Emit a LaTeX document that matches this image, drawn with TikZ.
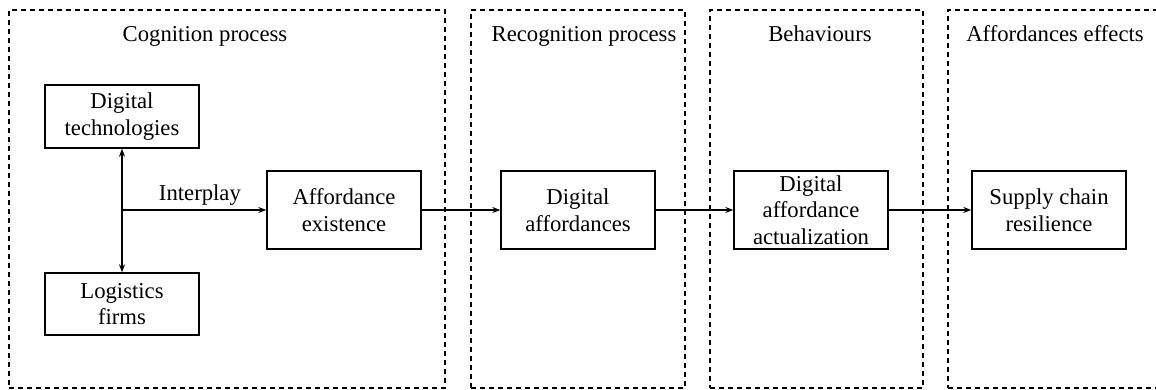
\documentclass[tikz,border=0pt]{standalone}
\usepackage{fontspec}
\setmainfont{Liberation Serif}
\usetikzlibrary{arrows.meta}
\begin{document}
\begin{tikzpicture}[x=1pt,y=-1pt,
  every node/.style={font=\fontsize{22.7}{26.5}\selectfont},
  panel/.style={draw, line width=1.2pt, dash pattern=on 5pt off 4pt, minimum height=378pt, inner sep=0pt},
  box/.style={draw, line width=1.4pt, minimum width=154pt, align=center, inner sep=0pt},
  title/.style={inner sep=0pt, anchor=base},
  link/.style={line width=1.2pt, -{Stealth[length=8pt,width=6pt]}}
]
\useasboundingbox (0,0) rectangle (1156,390);
\clip (0,0) rectangle (1156,390);
\fill[white] (0,0) rectangle (1156,390);

% stage panels
\node[panel, minimum width=436pt] (P1) at (227,199) {};
\node[panel, minimum width=214pt] (P2) at (578,199) {};
\node[panel, minimum width=213pt] (P3) at (816.5,199) {};
\node[panel, minimum width=222pt] (P4) at (1059,199) {};

% stage titles
\node[title] (T1) at (205,42) {Cognition process};
\node[title] (T2) at (584,42) {Recognition process};
\node[title] (T3) at (820,42) {Behaviours};
\node[title] (T4) at (1055,42) {Affordances effects};

% boxes
\node[box, minimum height=63pt] (DT) at (122,116.5) {Digital\\technologies};
\node[box, minimum height=62pt] (LF) at (122,304) {Logistics\\firms};
\node[box, minimum height=78pt] (AE) at (344,210) {Affordance\\existence};
\node[box, minimum height=78pt] (DA) at (578,210) {Digital\\affordances};
\node[box, minimum height=78pt] (DAA) at (811,210) {Digital\\affordance\\actualization};
\node[box, minimum height=78pt] (SCR) at (1049,210) {Supply chain\\resilience};

% connectors
\coordinate (J) at (122,210);
\draw[link, {Stealth[length=8pt,width=6pt]}-{Stealth[length=8pt,width=6pt]}] (DT.south) -- (LF.north);
\draw[link] (J) -- (AE.west) node[pos=0.54, above, inner sep=4pt] (IP) {Interplay};
\draw[link] (AE.east) -- (DA.west);
\draw[link] (DA.east) -- (DAA.west);
\draw[link] (DAA.east) -- (SCR.west);
\end{tikzpicture}
\end{document}
